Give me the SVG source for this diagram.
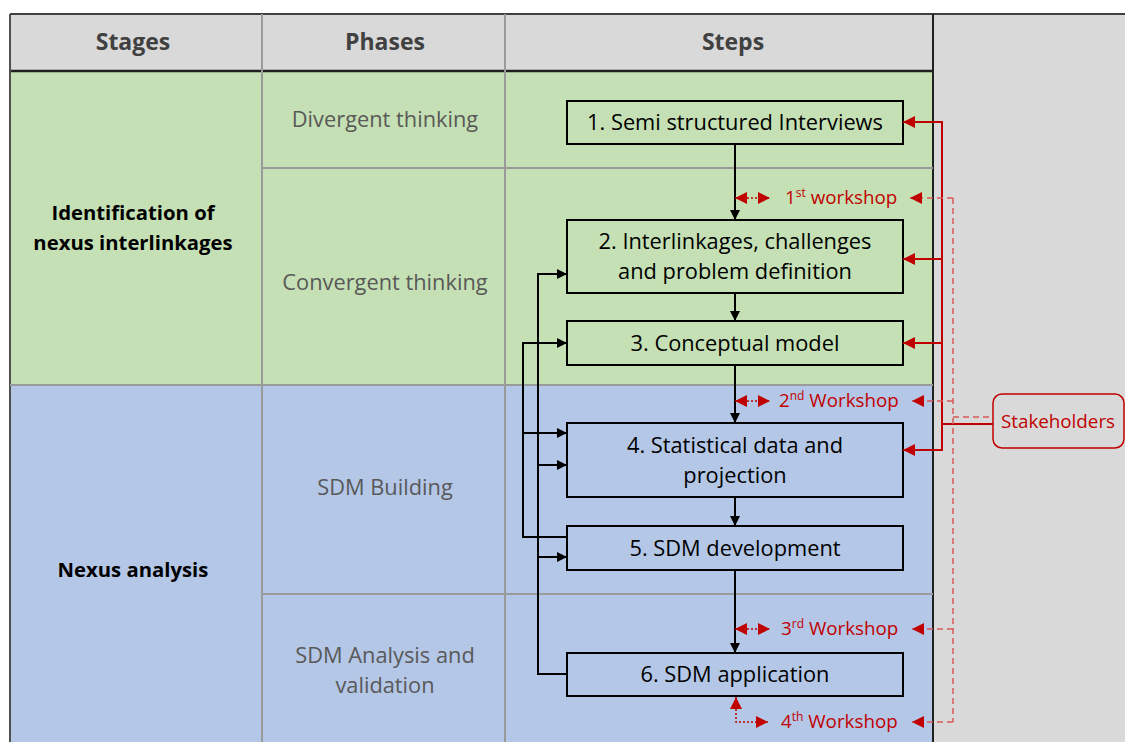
<svg xmlns="http://www.w3.org/2000/svg" width="1125" height="742" viewBox="0 0 1125 742">
<style>
.hdr{font-family:"Open Sans","Liberation Sans",sans-serif;font-weight:bold;font-size:23px;fill:#404040;text-anchor:middle}
.stage{font-family:"Open Sans","Liberation Sans",sans-serif;font-weight:bold;font-size:20.3px;fill:#000;text-anchor:middle}
.phase{font-family:"Open Sans","Liberation Sans",sans-serif;font-size:21.8px;fill:#595959;text-anchor:middle}
.step{font-family:"Open Sans","Liberation Sans",sans-serif;font-size:21.8px;fill:#000;text-anchor:middle}
.red{font-family:"Open Sans","Liberation Sans",sans-serif;font-size:18.8px;fill:#c00000}
.box{fill:none;stroke:#000;stroke-width:2}
.grid{stroke:#9a9a9a;stroke-width:2;fill:none}
.blk{stroke:#000;stroke-width:2;fill:none}
.rs{stroke:#c00000;stroke-width:2;fill:none}
.rd{stroke:#d85858;stroke-width:1.5;fill:none;stroke-dasharray:6 4}
.rdot{stroke:#c00000;stroke-width:1.5;fill:none;stroke-dasharray:2 2}
</style>
<defs>
<marker id="ab" viewBox="0 0 10 10" refX="10" refY="5" markerWidth="10" markerHeight="10" markerUnits="userSpaceOnUse" orient="auto"><path d="M0,0 L10,5 L0,10 z" fill="#000"/></marker>
<marker id="ar" viewBox="0 0 10 10" refX="10" refY="5" markerWidth="12" markerHeight="12" markerUnits="userSpaceOnUse" orient="auto"><path d="M0,0 L10,5 L0,10 z" fill="#c00000"/></marker>
<marker id="ars" viewBox="0 0 10 10" refX="10" refY="5" markerWidth="12" markerHeight="12" markerUnits="userSpaceOnUse" orient="auto-start-reverse"><path d="M0,0 L10,5 L0,10 z" fill="#c00000"/></marker>
</defs>
<rect x="0" y="0" width="1125" height="742" fill="#ffffff"/>
<g id="table">
<rect x="10" y="14" width="1115" height="728" fill="#d9d9d9"/>
<rect x="10" y="71" width="923" height="314" fill="#c5e0b4"/>
<rect x="10" y="385" width="923" height="357" fill="#b4c7e7"/>
<line x1="10" y1="14" x2="1125" y2="14" stroke="#404040" stroke-width="2"/>
<line x1="10" y1="71" x2="933" y2="71" stroke="#202020" stroke-width="2.5"/>
<line x1="10" y1="14" x2="10" y2="742" stroke="#505050" stroke-width="2"/>
<line x1="933" y1="14" x2="933" y2="742" stroke="#202020" stroke-width="2"/>
<line class="grid" x1="262" y1="14" x2="262" y2="742"/>
<line class="grid" x1="505" y1="14" x2="505" y2="742"/>
<line class="grid" x1="262" y1="168" x2="933" y2="168"/>
<line class="grid" x1="10" y1="385" x2="933" y2="385"/>
<line class="grid" x1="262" y1="594" x2="933" y2="594"/>
<text class="hdr" x="133" y="50">Stages</text>
<text class="hdr" x="385" y="50">Phases</text>
<text class="hdr" x="733" y="50">Steps</text>
<text class="stage" x="133" y="220">Identification of</text>
<text class="stage" x="133" y="250">nexus interlinkages</text>
<text class="stage" x="133" y="577">Nexus analysis</text>
<text class="phase" x="385" y="127">Divergent thinking</text>
<text class="phase" x="385" y="290">Convergent thinking</text>
<text class="phase" x="385" y="495">SDM Building</text>
<text class="phase" x="385" y="663">SDM Analysis and</text>
<text class="phase" x="385" y="693">validation</text>
</g>
<g id="step1"><rect class="box" x="567" y="101" width="336" height="43"/><text class="step" x="735" y="130">1. Semi structured Interviews</text></g>
<g id="step2"><rect class="box" x="567" y="220" width="336" height="73"/><text class="step" x="735" y="249">2. Interlinkages, challenges</text><text class="step" x="735" y="279">and problem definition</text></g>
<g id="step3"><rect class="box" x="567" y="321" width="336" height="44"/><text class="step" x="735" y="351">3. Conceptual model</text></g>
<g id="step4"><rect class="box" x="567" y="423" width="336" height="74"/><text class="step" x="735" y="453">4. Statistical data and</text><text class="step" x="735" y="483">projection</text></g>
<g id="step5"><rect class="box" x="567" y="526" width="336" height="44"/><text class="step" x="735" y="556">5. SDM development</text></g>
<g id="step6"><rect class="box" x="567" y="653" width="336" height="43"/><text class="step" x="735" y="682">6. SDM application</text></g>
<g id="stakeholders"><rect x="993" y="394" width="131" height="54" rx="9" fill="#d9d9d9" stroke="#c00000" stroke-width="1.5"/><text class="red" x="1058" y="428" text-anchor="middle">Stakeholders</text></g>
<g id="workshops">
<text class="red" x="785" y="204">1<tspan font-size="12" dy="-7">st</tspan><tspan dy="7"> workshop</tspan></text>
<text class="red" x="779" y="407">2<tspan font-size="12" dy="-7">nd</tspan><tspan dy="7"> Workshop</tspan></text>
<text class="red" x="781" y="635">3<tspan font-size="12" dy="-7">rd</tspan><tspan dy="7"> Workshop</tspan></text>
<text class="red" x="781" y="728">4<tspan font-size="12" dy="-7">th</tspan><tspan dy="7"> Workshop</tspan></text>
</g>
<g id="connectors">
<line class="blk" x1="735" y1="144" x2="735" y2="220" marker-end="url(#ab)"/>
<line class="blk" x1="735" y1="293" x2="735" y2="321" marker-end="url(#ab)"/>
<line class="blk" x1="735" y1="365" x2="735" y2="423" marker-end="url(#ab)"/>
<line class="blk" x1="735" y1="497" x2="735" y2="526" marker-end="url(#ab)"/>
<line class="blk" x1="735" y1="570" x2="735" y2="653" marker-end="url(#ab)"/>
<polyline class="blk" points="567,674 538,674 538,274"/>
<line class="blk" x1="537" y1="274" x2="567" y2="274" marker-end="url(#ab)"/>
<line class="blk" x1="538" y1="465" x2="567" y2="465" marker-end="url(#ab)"/>
<line class="blk" x1="538" y1="557" x2="567" y2="557" marker-end="url(#ab)"/>
<polyline class="blk" points="567,537 523,537 523,343"/>
<line class="blk" x1="522" y1="343" x2="567" y2="343" marker-end="url(#ab)"/>
<line class="blk" x1="523" y1="433" x2="567" y2="433" marker-end="url(#ab)"/>
<polyline class="rs" points="903,122 942,122 942,450 903,450" marker-start="url(#ars)" marker-end="url(#ar)"/>
<line class="rs" x1="942" y1="259" x2="903" y2="259" marker-end="url(#ar)"/>
<line class="rs" x1="942" y1="343" x2="903" y2="343" marker-end="url(#ar)"/>
<line class="rs" x1="942" y1="424" x2="993" y2="424"/>
<line class="rd" x1="953" y1="198" x2="953" y2="722"/>
<line class="rd" x1="953" y1="417" x2="993" y2="417"/>
<line class="rd" x1="953" y1="198" x2="910" y2="198" marker-end="url(#ar)"/>
<line class="rd" x1="953" y1="401" x2="912" y2="401" marker-end="url(#ar)"/>
<line class="rd" x1="953" y1="629" x2="912" y2="629" marker-end="url(#ar)"/>
<line class="rd" x1="953" y1="722" x2="912" y2="722" marker-end="url(#ar)"/>
<line class="rdot" x1="735" y1="198" x2="770" y2="198" marker-start="url(#ars)" marker-end="url(#ar)"/>
<line class="rdot" x1="735" y1="401" x2="770" y2="401" marker-start="url(#ars)" marker-end="url(#ar)"/>
<line class="rdot" x1="735" y1="629" x2="770" y2="629" marker-start="url(#ars)" marker-end="url(#ar)"/>
<polyline class="rdot" points="736,697 736,722 768,722" marker-start="url(#ars)" marker-end="url(#ar)"/>
</g>
</svg>
